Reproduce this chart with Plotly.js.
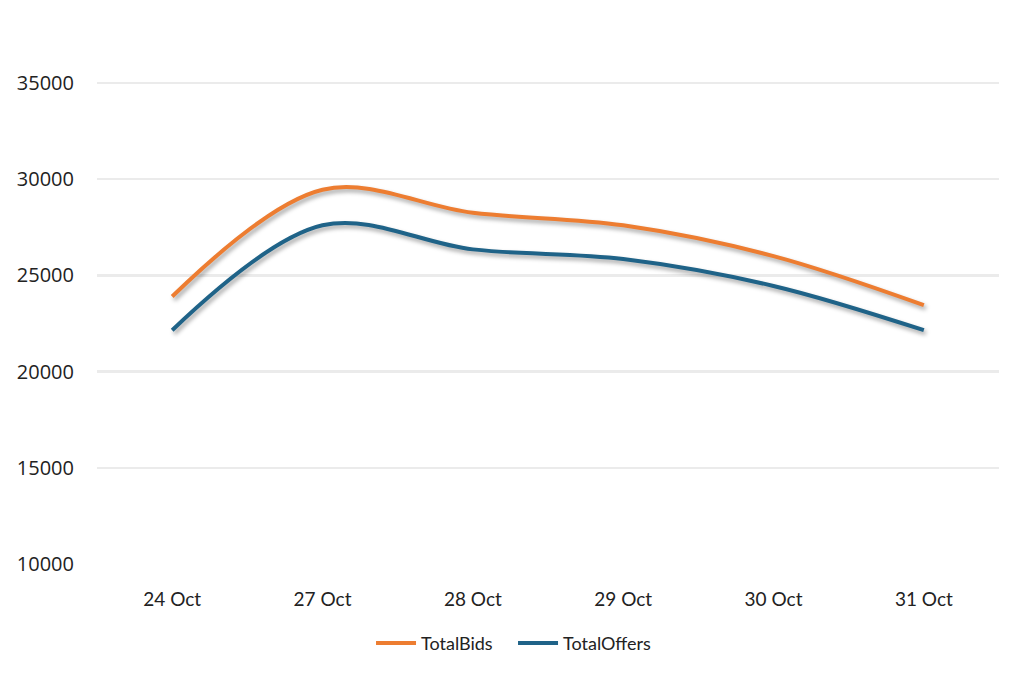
<!DOCTYPE html>
<html>
<head>
<meta charset="utf-8">
<script src="https://cdn.plot.ly/plotly-3.0.1.min.js"></script>
<style>
html,body{margin:0;padding:0;background:#fff;}
#chart{width:1024px;height:675px;}
</style>
</head>
<body>
<div id="chart"></div>
<script>
const categories = ["24 Oct", "27 Oct", "28 Oct", "29 Oct", "30 Oct", "31 Oct"];
const totalBids = [23900, 29450, 28250, 27600, 26000, 23450];
const totalOffers = [22150, 27600, 26350, 25850, 24450, 22150];
const yTicks = [10000, 15000, 20000, 25000, 30000, 35000];

const traces = [
  {x: categories, y: totalBids, name: "TotalBids", type: "scatter", mode: "lines",
   line: {color: "#ED7D31", width: 4, shape: "spline", smoothing: 1}},
  {x: categories, y: totalOffers, name: "TotalOffers", type: "scatter", mode: "lines",
   line: {color: "#1F6388", width: 4, shape: "spline", smoothing: 1}}
];

const layout = {
  width: 1024, height: 675,
  paper_bgcolor: "#ffffff", plot_bgcolor: "#ffffff",
  margin: {l: 97, r: 25, t: 81.4, b: 110.5},
  showlegend: true,
  legend: {orientation: "h", xref: "container", yref: "container", x: 0.501, xanchor: "center",
           y: 0.047, yanchor: "middle", font: {family: "Lato, sans-serif", size: 18, color: "#222"},
           itemwidth: 40, entrywidth: 87, tracegroupgap: 0},
  xaxis: {type: "category", range: [-0.5, 5.5], showgrid: false, zeroline: false, showline: false,
          ticks: "", ticklabelstandoff: 22,
          tickfont: {family: "Lato, sans-serif", size: 19, color: "#222"}},
  yaxis: {range: [10000, 35100], tickvals: yTicks, ticktext: yTicks.map(String),
          showgrid: true, gridcolor: "#EBEBEB", gridwidth: 2.5, zeroline: false, showline: false,
          ticks: "", ticklabelstandoff: 22,
          tickfont: {family: "'Open Sans', sans-serif", size: 20, color: "#222"}}
};

Plotly.newPlot("chart", traces, layout, {displayModeBar: false, staticPlot: true}).then(function(){
  document.querySelectorAll(".scatterlayer .js-line").forEach(function(p){
    p.style.filter = "drop-shadow(2px 3px 2px rgba(0,0,0,0.35))";
  });
});
</script>
</body>
</html>
